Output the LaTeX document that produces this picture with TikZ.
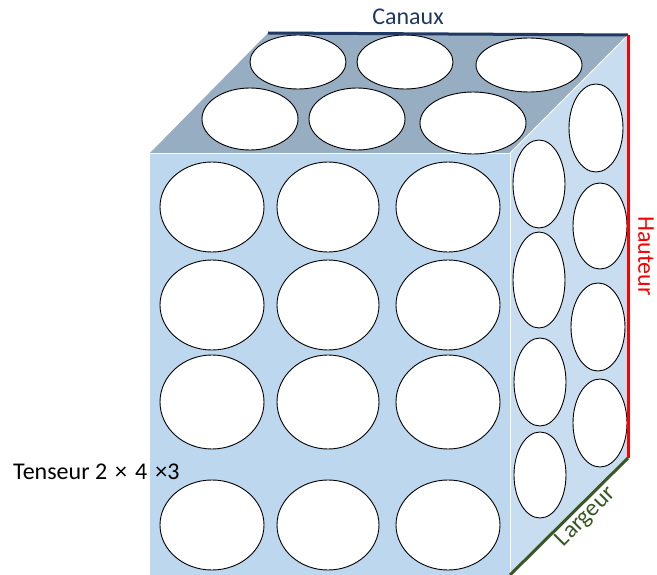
\documentclass[tikz,border=0pt]{standalone}
\usepackage{fontspec}
\setmainfont{Carlito}
\definecolor{frontc}{HTML}{BDD7EE}
\definecolor{topc}{HTML}{97ADC2}
\definecolor{sidec}{HTML}{C9DDF1}
\definecolor{navyc}{HTML}{203864}
\definecolor{greenc}{HTML}{385723}
\begin{document}
\begin{tikzpicture}[x=1pt,y=-1pt,
  face/.style={draw=white,line width=0.8pt},
  hole/.style={draw=black,fill=white,line width=0.9pt},
  lbl/.style={font=\fontsize{24}{28}\selectfont,inner sep=0pt}]
\useasboundingbox (0,0) rectangle (657,575);
% corners
\coordinate (FTL) at (150,153);
\coordinate (FTR) at (510,153);
\coordinate (FBL) at (150,575);
\coordinate (FBR) at (510,575);
\coordinate (BTL) at (268,33);
\coordinate (BTR) at (628,35);
\coordinate (BBR) at (628,458);
% faces
\fill[frontc] (FTL) -- (FTR) -- (FBR) -- (FBL) -- cycle;
\fill[topc] (FTL) -- (BTL) -- (BTR) -- (FTR) -- cycle;
\fill[sidec] (FTR) -- (BTR) -- (BBR) -- (FBR) -- cycle;
\draw[face] (FTL) -- (FTR) -- (FBR);
\draw[face] (FTR) -- (BTR);
% front holes
\foreach \cy/\ry in {207/45,305/45,402/47,525/45}{
  \draw[hole] (212,\cy) ellipse [x radius=52,y radius=\ry];
  \draw[hole] (328,\cy) ellipse [x radius=51,y radius=\ry];
  \draw[hole] (448,\cy) ellipse [x radius=52,y radius=\ry];
}
% top holes
\draw[hole] (298,62) ellipse [x radius=48,y radius=27];
\draw[hole] (405,62) ellipse [x radius=48,y radius=27];
\draw[hole] (529,65) ellipse [x radius=53,y radius=27];
\draw[hole] (250,119) ellipse [x radius=48,y radius=31];
\draw[hole] (357,119) ellipse [x radius=48,y radius=31];
\draw[hole] (473,123) ellipse [x radius=53,y radius=31];
% side holes
\draw[hole] (539,184) ellipse [x radius=26,y radius=44];
\draw[hole] (539,280) ellipse [x radius=26,y radius=48];
\draw[hole] (540,382) ellipse [x radius=26,y radius=44];
\draw[hole] (540,475) ellipse [x radius=26,y radius=43];
\draw[hole] (596,128) ellipse [x radius=27,y radius=44];
\draw[hole] (600,226) ellipse [x radius=27,y radius=43];
\draw[hole] (598,327) ellipse [x radius=27,y radius=44];
\draw[hole] (600,423) ellipse [x radius=27,y radius=44];
% dimension edges
\draw[navyc,line width=3pt] (BTL) -- (BTR);
\draw[red,line width=3pt] (BTR) -- (BBR);
\draw[greenc,line width=3pt] (BBR) -- (FBR);
% labels
\node[lbl,text=navyc] (canaux) at (408,17) {Canaux};
\node[lbl,text=red,rotate=-90] (hauteur) at (646,256) {Hauteur};
\node[lbl,text=greenc,rotate=45] (largeur) at (586,517) {Largeur};
\node[lbl,text=black,anchor=west] (tenseur) at (13,472) {Tenseur 2\,\,×\,\,4\,\,×3};
\end{tikzpicture}
\end{document}
